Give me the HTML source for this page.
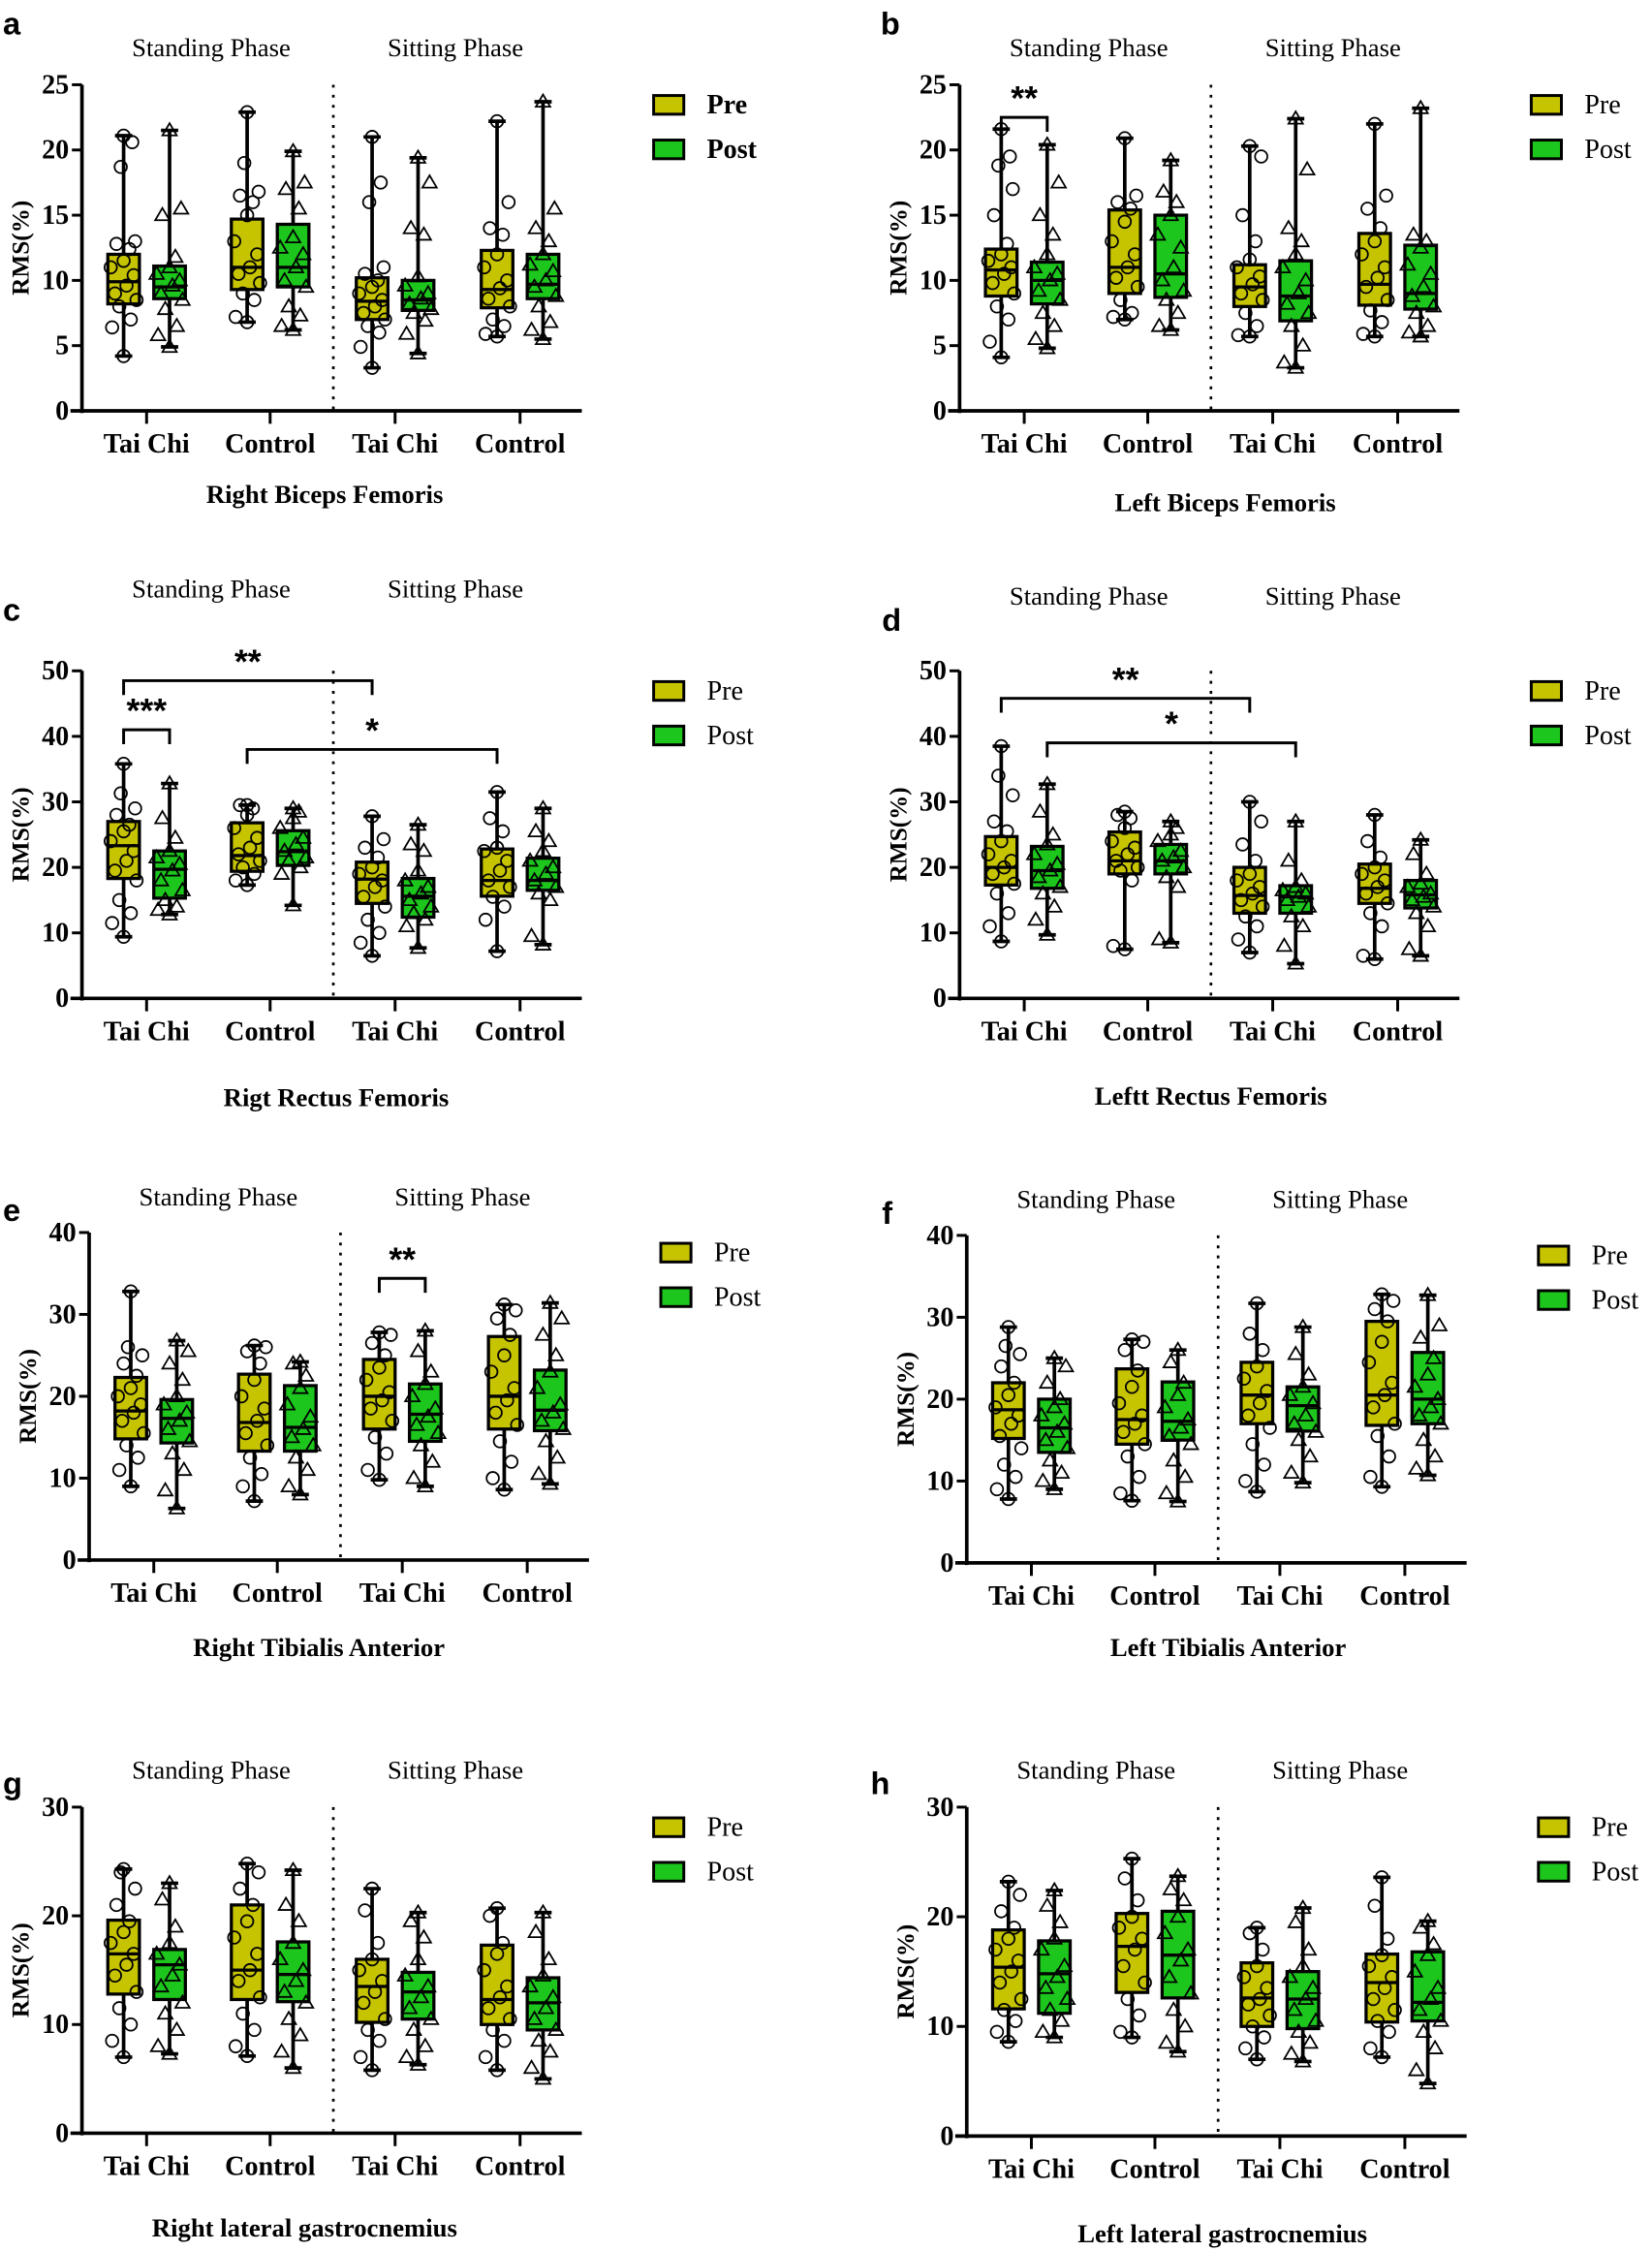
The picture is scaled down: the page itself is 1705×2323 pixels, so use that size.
<!DOCTYPE html>
<html><head><meta charset="utf-8">
<style>
html,body{margin:0;padding:0;background:#fff;}
svg{display:block;}
text{font-family:"Liberation Serif",serif;fill:#000;}
.lt{font-family:"Liberation Sans",sans-serif;font-weight:bold;}
</style></head>
<body>
<svg id="fig" width="1705" height="2323" viewBox="0 0 1150 1567" xmlns="http://www.w3.org/2000/svg"></svg>
<script>
// ---------- data ----------
const categories = ["Tai Chi","Control","Tai Chi","Control"];
const phases = ["Standing Phase","Sitting Phase"];
const seriesNames = ["Pre","Post"];
const panelLetters = ["a","b","c","d","e","f","g","h"];
const panelTitles = ["Right Biceps Femoris","Left Biceps Femoris","Rigt Rectus Femoris","Leftt Rectus Femoris","Right Tibialis Anterior","Left Tibialis Anterior","Right lateral gastrocnemius","Left lateral gastrocnemius"];
const yMaxes = [25,25,50,50,40,40,30,30];
const yTickSteps = [5,5,10,10,10,10,10,10];
const statsA = [[4.2,8.2,9.9,12,21.1],[4.9,8.6,9.5,11.1,21.5],[6.8,9.3,11,14.7,22.9],[6.2,9.5,11,14.3,19.9],[3.3,7,8.4,10.2,21],[4.4,7.7,8.5,10,19.4],[5.7,7.9,9.3,12.3,22.2],[5.5,8.6,9.7,12,23.7]];
const statsB = [[4.1,8.8,10.8,12.4,21.6],[4.8,8.2,10,11.4,20.4],[7,9,11,15.4,20.9],[6.2,8.7,10.5,15,19.2],[5.7,8,9.5,11.2,20.3],[3.3,6.9,8.8,11.5,22.4],[5.7,8.1,9.7,13.6,22],[5.7,7.8,9,12.7,23.2]];
const statsC = [[9.4,18.3,23.3,27,35.8],[12.8,15.3,19.7,22.5,32.8],[17.3,19.4,21.8,26.8,29.5],[14.2,20.3,22.4,25.6,29],[6.5,14.5,18.2,20.8,27.8],[7.7,12.4,15.6,18.3,26.5],[7.2,15.6,18,22.8,31.5],[8.2,16.5,18,21.4,29]];
const statsD = [[8.7,17.3,20,24.7,38.5],[9.7,16.8,19.5,23.2,32.7],[7.5,19,21,25.4,28.5],[8.5,19,21,23.5,27],[7,13,15.7,20,30],[5.3,13,15.5,17.2,27],[6,14.5,16.8,20.5,28],[6.5,13.8,15.8,18,24.2]];
const statsE = [[9,14.8,18.2,22.3,32.8],[6.3,14.3,17.3,19.6,26.8],[7.2,13.3,16.8,22.7,26.2],[8,13.3,16.2,21.3,24.2],[9.8,16,20,24.5,27.8],[9,14.5,17.8,21.5,28],[8.6,16,20,27.3,31.2],[9.3,15.8,18.3,23.2,31.4]];
const statsF = [[7.8,15.2,18.7,22,28.8],[9,13.5,16.5,20,25],[7.6,14.5,17.5,23.7,27.3],[7.5,15,17.3,22.1,26],[8.7,17,20.5,24.5,31.7],[9.8,16.1,19.2,21.5,28.8],[9.3,16.8,20.5,29.5,32.8],[10.7,17,20,25.7,32.7]];
const statsG = [[7,12.8,16.5,19.6,24.3],[7.3,12.3,15.5,16.9,23],[7.1,12.3,15,21,24.8],[6,12.1,14.6,17.6,24.2],[5.8,10.2,13.5,16,22.5],[6.3,10.5,13,14.8,20.3],[5.8,10,12.3,17.3,20.7],[5,9.5,12,14.3,20.3]];
const statsH = [[8.6,11.6,15.4,18.8,23.2],[9,11.2,14.8,17.8,22.4],[9,13.1,17.3,20.3,25.3],[7.7,12.6,16.5,20.5,23.7],[7,10,12.6,15.8,19],[6.8,9.8,12.5,15,20.8],[7.2,10.4,14,16.6,23.6],[4.8,10.5,12.2,16.8,19.6]];
const ptsA = [[6.4,7,8,8.5,9,9.6,10.4,11,11.5,12.4,12.8,13,18.7,20.6],[5.8,6.5,7.8,8.5,9,9.6,10,10.5,11,11.8,15,15.5],[7.2,8.5,9,9.8,10.5,11,12,13,15,16,16.5,16.8,19],[6.5,7.3,8,9.5,10,11,12,12.5,13.3,15.5,17,17.5],[4.9,6,6.5,7,7.5,8,8.5,9,9.5,10,10.5,11,16,17.5],[5.9,6.9,7.5,7.8,8.2,8.6,9,9.6,10.3,13.5,14,17.5],[5.9,6.5,7,8,8.6,9.4,10,11,12,13.5,14,16],[6.2,6.8,8,8.8,9.5,10,10.7,11.2,12,13,14,15.5]];
const ptsB = [[5.3,7,8,9,9.8,10.5,11,11.5,12,12.8,15,17,18.8,19.5],[5.5,6.5,7.5,8.5,9.2,10,10.5,11,12,13.5,15,17.5],[7.2,7.5,8.5,9.5,10.2,11,12,13,14.5,15.5,16,16.5],[6.5,7.5,8.5,9.2,10,11,12.5,13.5,15,16,16.8],[5.8,6.5,7.5,8.5,9,9.7,10.3,11,11.6,13,15,19.5],[3.7,5,6.5,7.5,8.2,9,10,11,12,13,14,18.5],[5.9,6.8,7.7,8.5,9.5,10.2,11,12,13,14,15.5,16.5],[6,6.5,7.5,8,8.8,9.5,10.5,11.2,12.5,13,13.5]];
const ptsC = [[11.5,13,15,18,19.5,21,22.5,24,25.5,26.5,28,29,31.3],[13.5,14,15,16.5,18,19.5,20.5,21.5,22.5,24.5,27.5],[18,19,20,21,22,23,24.5,26,28,29,29.5],[19,20,21,21.5,22.5,23.5,24.5,26,27.5,28.5],[8.5,10,12,14,15.5,17,18,19,20,21.5,23,24.3],[11,12,13,14,15,16,17,18,19.5,22.5,23.5],[12,14,15.5,17,18,19.5,21,22.5,23,25.5,27.5],[9.5,15,16,17,18,19,20,21,22.5,24,25.5]];
const ptsD = [[11,13,16,17.5,19,20,21,22,24,25.5,27,31,34],[12,14,16,17,18.5,19.5,20.5,22,23.5,25,28.5],[8,18,19.5,20,21,22,23,24,26,27.5,28],[9,17,18.5,20,21,21.5,22.5,24,25,26],[9,11,12.5,14,15,16,17,18,19,21,23.5,27],[8,11,12.5,14,15,15.5,16,16.5,17,18,21],[6.5,11,13,14.5,16,17,18,19,20,21.5,24],[7.5,11,13,14,15,15.5,16,17,17.5,19,22]];
const ptsE = [[11,12.5,14,15.5,17,18,19,20,21,22.5,24,25,26],[8.5,11,13,14.5,16,17,18,19,20,22,24,25.5],[9,10.5,12.5,14,15.5,17,18.5,20,22,24,25.5,26],[9,11,12.5,14,15,16,17.5,19,21,22.5,24],[11,13,15,17,18.5,19.5,20.5,22,23.5,25,26.5,27.5],[10,12,14,15.5,16.5,17.5,18.5,20,21.5,23,25.5],[10,12,14.5,16.5,18,19.5,21,23,25,27.5,29.5,30.5],[10.5,12.5,14.5,16,17,18,19,21,23,25,27.5,29.5]];
const ptsF = [[9,10.5,12,14,15.5,17,18,19,20.5,22,24,25.5,26.5],[10,11,12.5,14,15,16,17,18,19,20,22,24],[8.5,10.5,13,14.5,16,17,18,19.5,21.5,23.5,26,27],[8.5,10.5,12.5,14.5,15.5,16.5,17.5,19,20.5,22,24.5],[10,12,14.5,16.5,18,19.5,21,22.5,24,26,28],[11,13,15,16,17,18,19.5,20.5,21.5,23,25.5],[10.5,13,15.5,17,19,20.5,22,24.5,27,29.5,31,32],[11.5,13,15,17,18,19,20,21.5,23,25,27.5,29]];
const ptsG = [[8.5,10,11.5,13,14.5,15.5,16.5,17.5,18.5,19.5,21,22.5,24],[8,9.5,11,12,13.5,14.5,15.5,16.5,17.5,19,21.5],[8,9.5,11,12.5,14,15,16.5,18,19.5,21,22.5,24],[7.5,9,10.5,12,13,14,15,16,17.5,19.5,21],[7,8.5,9.5,10.5,12,13,14,15,16,17.5,20.5],[7,8,9.5,10.5,11.5,12.5,13.5,14.5,16,18,19.5],[7,8.5,9.5,10.5,11.5,12.5,13.5,15,16.5,17.5,20],[6,7.5,8.5,9.5,10.5,11.5,12.5,13.5,14.5,16,18.5]];
const ptsH = [[9.5,10.5,11.5,12.5,14,15,16,17,18,19,20.5,22],[9.5,10.5,11.5,12.5,13.5,14.5,15.5,17,18,19.5,21],[9.5,11,12.5,14,15.5,17,18,19,20,21.5,23.5],[8.5,10,11.5,13,14.5,16,17,18.5,20,21.5,22.5],[8,9,10,11,12,12.5,13.5,14.5,15.5,17,18.5],[7.5,8.5,9.5,10.5,11.5,12.5,13.5,14.5,15.5,17,19.5],[8,9.5,10.5,11.5,12.5,13.5,14.5,15.5,16.5,18,21],[6,8,9.5,10.5,11.5,12.5,13.5,15,16.5,17.5,19]];
const annB = [[0,1,22.5,"**"]];
const annC = [[0,4,48.5,"**"],[0,1,41,"***"],[2,6,38,"*"]];
const annD = [[0,4,45.8,"**"],[1,5,39,"*"]];
const annE = [[4,5,34.4,"**"]];
const allStats = [statsA,statsB,statsC,statsD,statsE,statsF,statsG,statsH];
const allPts = [ptsA,ptsB,ptsC,ptsD,ptsE,ptsF,ptsG,ptsH];
const allAnn = [[],annB,annC,annD,annE,[],[],[]];

// ---------- layout ----------
const layout = [
 {ax:57, top:59, bot:286, phaseY:39, titleY:350, tx:169, lx:2,ly:24},
 {ax:668,top:59, bot:286, phaseY:39, titleY:356, tx:185, lx:613,ly:24},
 {ax:57, top:467,bot:695, phaseY:416,titleY:770, tx:177, lx:2,ly:432},
 {ax:668,top:467,bot:695, phaseY:421,titleY:769, tx:175, lx:614,ly:439},
 {ax:62, top:858,bot:1086,phaseY:839,titleY:1153,tx:160, lx:2,ly:850},
 {ax:673,top:860,bot:1088,phaseY:841,titleY:1153,tx:182, lx:614,ly:852},
 {ax:57, top:1258,bot:1485,phaseY:1238,titleY:1557,tx:155, lx:2,ly:1249},
 {ax:673,top:1258,bot:1487,phaseY:1238,titleY:1561,tx:178, lx:606,ly:1249}
];
const groupOff = [45,131,218,305];
const jitter = [-8,5,-3,9,-6,2,7,-9,0,4,-5,8,-2,6];
const COL = ["#c6c300","#1dc61d"];
const NS = "http://www.w3.org/2000/svg";
const svg = document.getElementById('fig');
function el(tag, attrs, parent, txt){
  const e = document.createElementNS(NS, tag);
  for (const k in attrs) e.setAttribute(k, attrs[k]);
  if (txt !== undefined) e.textContent = txt;
  (parent||svg).appendChild(e);
  return e;
}

allStats.forEach((stats, p) => {
  const L = layout[p];
  const g = el('g', {});
  
  
  const yMax = yMaxes[p];
  const y = v => L.bot - v / yMax * (L.bot - L.top);
  const xBox = i => L.ax + groupOff[Math.floor(i/2)] + (i%2 === 0 ? -16 : 16);

  const letter = el('text', {x:L.lx, y:L.ly, 'font-size':22, class:'lt'}, g, panelLetters[p]);
  
  

  phases.forEach((ph, k) => {
    const t = el('text', {x:L.ax + 90 + k*170, y:L.phaseY, 'font-size':18, 'text-anchor':'middle'}, g, ph);
    
    
  });

  const ya = el('line', {x1:L.ax, y1:L.top, x2:L.ax, y2:L.bot+1.5, stroke:'#000','stroke-width':2.5}, g);
  
  
  const xa = el('line', {x1:L.ax-8, y1:L.bot, x2:L.ax+348, y2:L.bot, stroke:'#000','stroke-width':2.5}, g);
  
  
  for (let v = 0; v <= yMax + 1e-9; v += yTickSteps[p]) {
    el('line', {x1:L.ax-7, y1:y(v), x2:L.ax, y2:y(v), stroke:'#000','stroke-width':2}, g);
    const t = el('text', {x:L.ax-9, y:y(v)+6, 'font-size':19,'font-weight':'bold','text-anchor':'end'}, g, String(v));
    
    
  }
  categories.forEach((c, k) => {
    const cx = L.ax + groupOff[k];
    el('line', {x1:cx, y1:L.bot, x2:cx, y2:L.bot+9, stroke:'#000','stroke-width':2}, g);
    const t = el('text', {x:cx, y:L.bot+29, 'font-size':19,'font-weight':'bold','text-anchor':'middle'}, g, c);
    
    
  });
  const yt = el('text', {x:0, y:0, 'font-size':17,'font-weight':'bold','text-anchor':'middle', transform:`translate(${L.ax-37},${(L.top+L.bot)/2}) rotate(-90)`}, g, 'RMS(%)');
  
  
  const xt = el('text', {x:L.ax+L.tx, y:L.titleY, 'font-size':18,'font-weight':'bold','text-anchor':'middle'}, g, panelTitles[p]);
  
  

  const dv = el('line', {x1:L.ax+175, y1:L.top, x2:L.ax+175, y2:L.bot, stroke:'#000','stroke-width':1.8,'stroke-dasharray':'2,5'}, g);
  
  

  stats.forEach((s, i) => {
    const cx = xBox(i);
    const bg = el('g', {}, g);
    
    
    el('line', {x1:cx, y1:y(s[4]), x2:cx, y2:y(s[0]), stroke:'#000','stroke-width':2.5}, bg);
    el('line', {x1:cx-6, y1:y(s[4]), x2:cx+6, y2:y(s[4]), stroke:'#000','stroke-width':2.5}, bg);
    el('line', {x1:cx-6, y1:y(s[0]), x2:cx+6, y2:y(s[0]), stroke:'#000','stroke-width':2.5}, bg);
    el('rect', {x:cx-11, y:y(s[3]), width:22, height:y(s[1])-y(s[3]), fill:COL[i%2], stroke:'#000','stroke-width':2.2}, bg);
    el('line', {x1:cx-11, y1:y(s[2]), x2:cx+11, y2:y(s[2]), stroke:'#000','stroke-width':2.2}, bg);
    const pts = allPts[p][i].concat([s[0], s[4]]);
    pts.forEach((v, j) => {
      const px = cx + (j >= pts.length-2 ? 0 : jitter[j % jitter.length]);
      const py = y(v);
      if (i%2 === 0) {
        el('circle', {cx:px, cy:py, r:4.3, fill:'none', stroke:'#000','stroke-width':1.2}, bg);
      } else {
        el('path', {d:`M${px},${py-5} L${px+5},${py+3.5} L${px-5},${py+3.5} Z`, fill:'none', stroke:'#000','stroke-width':1.2}, bg);
      }
    });
  });

  allAnn[p].forEach(a => {
    const x1 = xBox(a[0]), x2 = xBox(a[1]), yy = y(a[2]);
    const ag = el('g', {}, g);
    
    
    el('path', {d:`M${x1},${yy+10} L${x1},${yy} L${x2},${yy} L${x2},${yy+10}`, fill:'none', stroke:'#000','stroke-width':2}, ag);
    el('text', {x:(x1+x2)/2, y:yy-5, 'font-size':24,'text-anchor':'middle', class:'lt'}, ag, a[3]);
  });

  seriesNames.forEach((n, k) => {
    const ly = L.top + 14 + k*31;
    const lg = el('g', {}, g);
    
    
    el('rect', {x:L.ax+398, y:ly-6.5, width:21, height:13, fill:COL[k], stroke:'#000','stroke-width':2}, lg);
    el('text', {x:L.ax+435, y:ly+6, 'font-size':19, 'font-weight': p===0 ? 'bold':'normal'}, lg, n);
  });
});
</script>
</body></html>
